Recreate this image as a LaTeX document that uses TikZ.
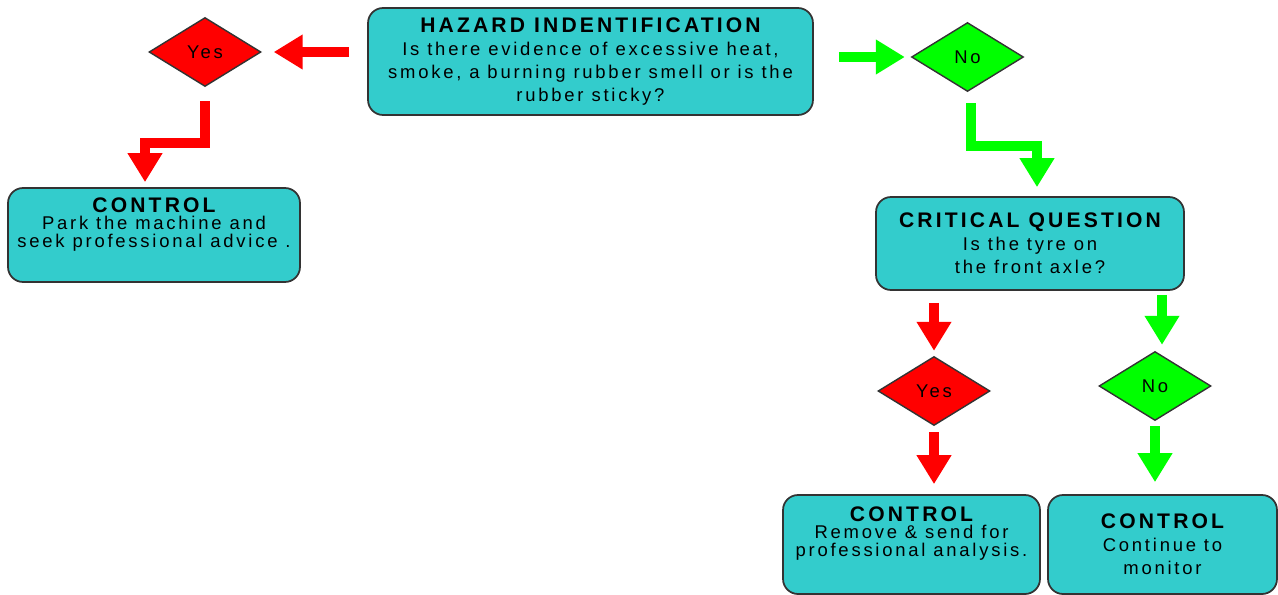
\documentclass[tikz,border=0pt]{standalone}
\usepackage{fontspec}
\newfontfamily\flowfont[LetterSpace=15]{Liberation Sans}
\usetikzlibrary{shapes.geometric,arrows.meta}

\definecolor{boxteal}{RGB}{51,204,204}
\definecolor{yesred}{RGB}{255,0,0}
\definecolor{nogreen}{RGB}{0,255,0}

\newcommand{\boxhead}[1]{{\bfseries\fontsize{12}{14}\selectfont #1}}

\tikzset{
  flowbox/.style={draw=black!80, line width=1pt, fill=boxteal, rounded corners=0.3cm,
    align=center, inner sep=2pt, font=\flowfont\fontsize{10.5}{13}\selectfont},
  decision/.style={diamond, draw=black!80, line width=0.8pt, inner sep=0pt,
    minimum width=2.24cm, minimum height=1.38cm, font=\flowfont\fontsize{10.5}{12}\selectfont},
  fatarrow/.style={line width=0.2cm, line join=miter, -{Triangle[length=0.58cm,width=0.66cm]}},
}

\begin{document}
\begin{tikzpicture}[x=0.02cm, y=-0.02cm]
    \useasboundingbox (0,0) rectangle (1278,595);

    \node[flowbox, minimum width=8.9cm, minimum height=2.14cm] (hazard) at (590.5,61.5)
        {\boxhead{HAZARD INDENTIFICATION}\\ Is there evidence of excessive heat,\\
         smoke, a burning rubber smell or is the\\ rubber sticky?};
    \node[flowbox, minimum width=5.84cm, minimum height=1.88cm, text depth=0.5cm] (ctrlA) at (154,235)
        {\boxhead{CONTROL}\\[-3pt] Park the machine and\\[-3pt] seek professional advice .};
    \node[flowbox, minimum width=6.16cm, minimum height=1.86cm] (critical) at (1030,243.5)
        {\boxhead{CRITICAL QUESTION}\\ Is the tyre on\\ the front axle?};
    \node[flowbox, minimum width=5.14cm, minimum height=1.98cm, text depth=0.52cm] (ctrlB) at (911.5,544.5)
        {\boxhead{CONTROL}\\[-3pt] Remove \& send for\\[-3pt] professional analysis.};
    \node[flowbox, minimum width=4.58cm, minimum height=1.98cm] (ctrlC) at (1162.5,544.5)
        {\boxhead{CONTROL}\\ Continue to\\ monitor};

    % yes / no answers
    \node[decision, fill=yesred] (dYes1) at (205,52) {Yes};
    \node[decision, fill=nogreen] (dNo1) at (967.5,57) {No};
    \node[decision, fill=yesred] (dYes2) at (934,391) {Yes};
    \node[decision, fill=nogreen] (dNo2) at (1155,386) {No};

    \draw[fatarrow, yesred, shorten <=0.36cm, shorten >=0.24cm] (hazard.west |- dYes1) -- (dYes1.east);
    \draw[fatarrow, nogreen, shorten <=0.5cm, shorten >=0.12cm] (hazard.east |- dNo1) -- (dNo1.west);
    \draw[fatarrow, yesred, shorten <=0.28cm, shorten >=0.1cm] (dYes1.south) -- ++(0,56) -| ([xshift=-0.18cm]ctrlA.north);
    \draw[fatarrow, nogreen, shorten <=0.22cm, shorten >=0.18cm] ([xshift=0.06cm]dNo1.south) -- ++(0,54) -| ([xshift=0.14cm]critical.north);
    \draw[fatarrow, yesred, shorten <=0.24cm, shorten >=0.1cm] (critical.south -| dYes2) -- (dYes2.north);
    \draw[fatarrow, nogreen, shorten <=0.08cm, shorten >=0.12cm] ([xshift=0.14cm]critical.south -| dNo2) -- ([xshift=0.14cm]dNo2.north);
    \draw[fatarrow, yesred, shorten <=0.12cm, shorten >=0.2cm] (dYes2.south) -- (dYes2.south |- ctrlB.north);
    \draw[fatarrow, nogreen, shorten <=0.1cm, shorten >=0.24cm] (dNo2.south) -- (dNo2.south |- ctrlC.north);
\end{tikzpicture}
\end{document}
